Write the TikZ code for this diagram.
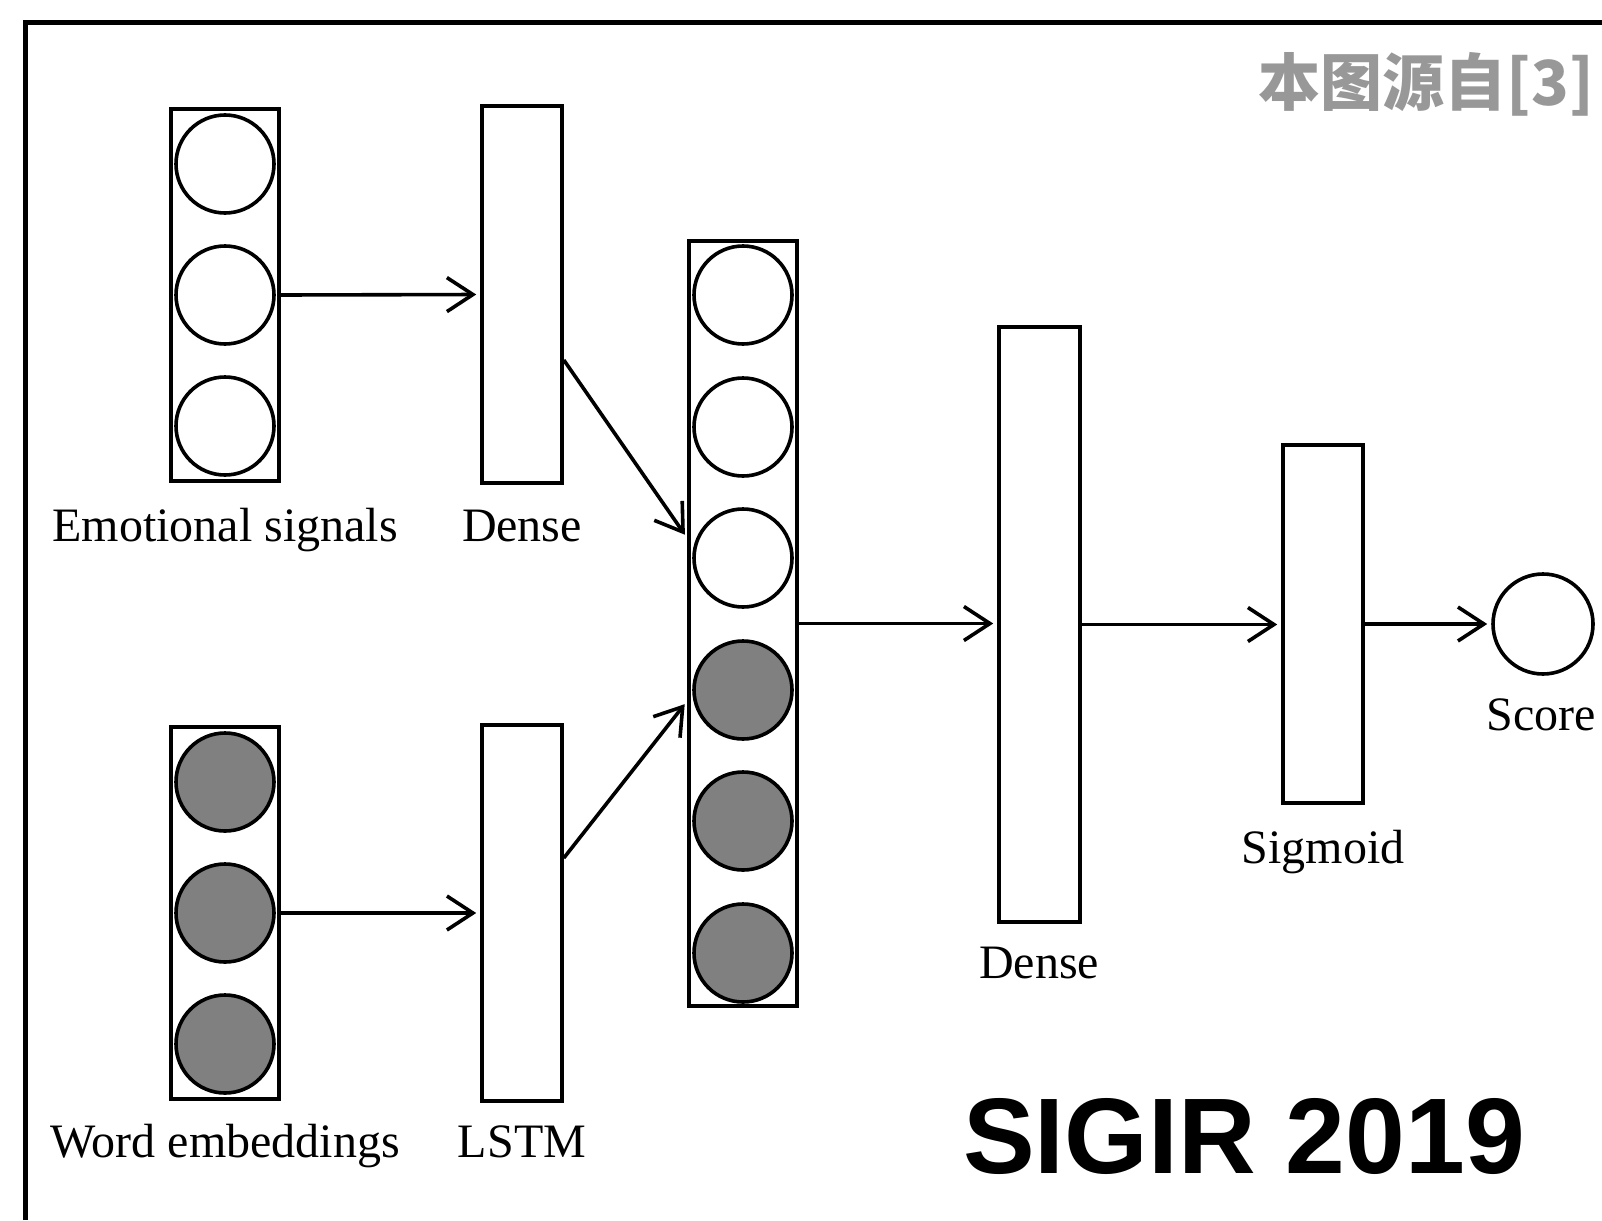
\documentclass[tikz,border=0pt]{standalone}
\usepackage{fontspec}
\setmainfont{Liberation Serif}
\newfontfamily\cjkfont{Noto Sans CJK SC}
\newfontfamily\headfont{Liberation Sans}
\usetikzlibrary{arrows.meta}
\definecolor{unitgray}{HTML}{808080}
\definecolor{notegray}{HTML}{989898}
\begin{document}
\begin{tikzpicture}[x=1pt,y=-1pt,
  vecbox/.style={draw, rectangle, line width=3.6pt, minimum width=108pt, inner sep=0pt},
  layerbox/.style={draw, rectangle, line width=3.6pt, minimum width=80pt, inner sep=0pt},
  unit/.style={draw, circle, line width=3.6pt, minimum size=98pt, inner sep=0pt, fill=white},
  fullunit/.style={unit, fill=unitgray},
  arr/.style={line width=3.6pt, -{Straight Barb[length=26pt,width=34pt]}, shorten >=4pt},
  lbl/.style={anchor=base, inner sep=0pt, font=\fontsize{48}{48}\selectfont}
]
\useasboundingbox (0,0) rectangle (1602,1220);
\fill[white] (0,0) rectangle (1602,1220);
% frame
\draw[line width=5pt] (25.5,1220) -- (25.5,22.5) -- (1602,22.5);

% emotional signals vector
\node[vecbox, minimum height=372pt] (es) at (225,295) {};
\node[unit] (es1) at (225,164) {};
\node[unit] (es2) at (225,295) {};
\node[unit] (es3) at (225,426) {};
% word embeddings vector
\node[vecbox, minimum height=372pt] (we) at (225,913) {};
\node[fullunit] (we1) at (225,782) {};
\node[fullunit] (we2) at (225,913) {};
\node[fullunit] (we3) at (225,1044) {};
% dense and lstm
\node[layerbox, minimum height=377pt] (d1) at (522,294.5) {};
\node[layerbox, minimum height=376pt] (lstm) at (522,913) {};
% concatenated vector
\node[vecbox, minimum height=765pt] (mid) at (743,623.5) {};
\node[unit] (m1) at (743,295) {};
\node[unit] (m2) at (743,427) {};
\node[unit] (m3) at (743,558) {};
\node[fullunit] (m4) at (743,690) {};
\node[fullunit] (m5) at (743,821) {};
\node[fullunit] (m6) at (743,953) {};
% dense 2, sigmoid, score
\node[layerbox, minimum width=81pt, minimum height=595pt] (d2) at (1039.5,624.5) {};
\node[layerbox, minimum height=358pt] (sig) at (1323,624) {};
\node[draw, circle, line width=3.6pt, minimum size=100pt, inner sep=0pt] (score) at (1543,624) {};

% connectors
\draw[arr] (es.east) -- (d1.west);
\draw[arr] (we.east) -- (lstm.west);
\draw[arr] ([yshift=-65.5pt]d1.east) -- ([yshift=20pt]m3.west -| mid.west);
\draw[arr] ([yshift=55pt]lstm.east) -- ([yshift=-11pt]m4.west -| mid.west);
\draw[arr] (mid.east) -- (mid.east -| d2.west);
\draw[arr] (d2.east) -- (d2.east -| sig.west);
\draw[arr] (sig.east) -- (score.west);

% labels
\node[lbl] (les) at (225,541) {Emotional signals};
\node[lbl] (ld1) at (522,541) {Dense};
\node[lbl] (lwe) at (225,1157) {Word embeddings};
\node[lbl] (llstm) at (522,1157) {LSTM};
\node[lbl] (ld2) at (1039,978) {Dense};
\node[lbl] (lsig) at (1323,863) {Sigmoid};
\node[lbl] (lscore) at (1541,730) {Score};

\node[anchor=base west, inner sep=0pt, font=\headfont\bfseries\fontsize{107.5}{107.5}\selectfont] (conf) at (963,1173) {SIGIR 2019};
\node[anchor=base east, inner sep=0pt, text=notegray, font=\cjkfont\bfseries\fontsize{62}{62}\selectfont] (note) at (1594,106) {本图源自[3]};
\end{tikzpicture}
\end{document}
